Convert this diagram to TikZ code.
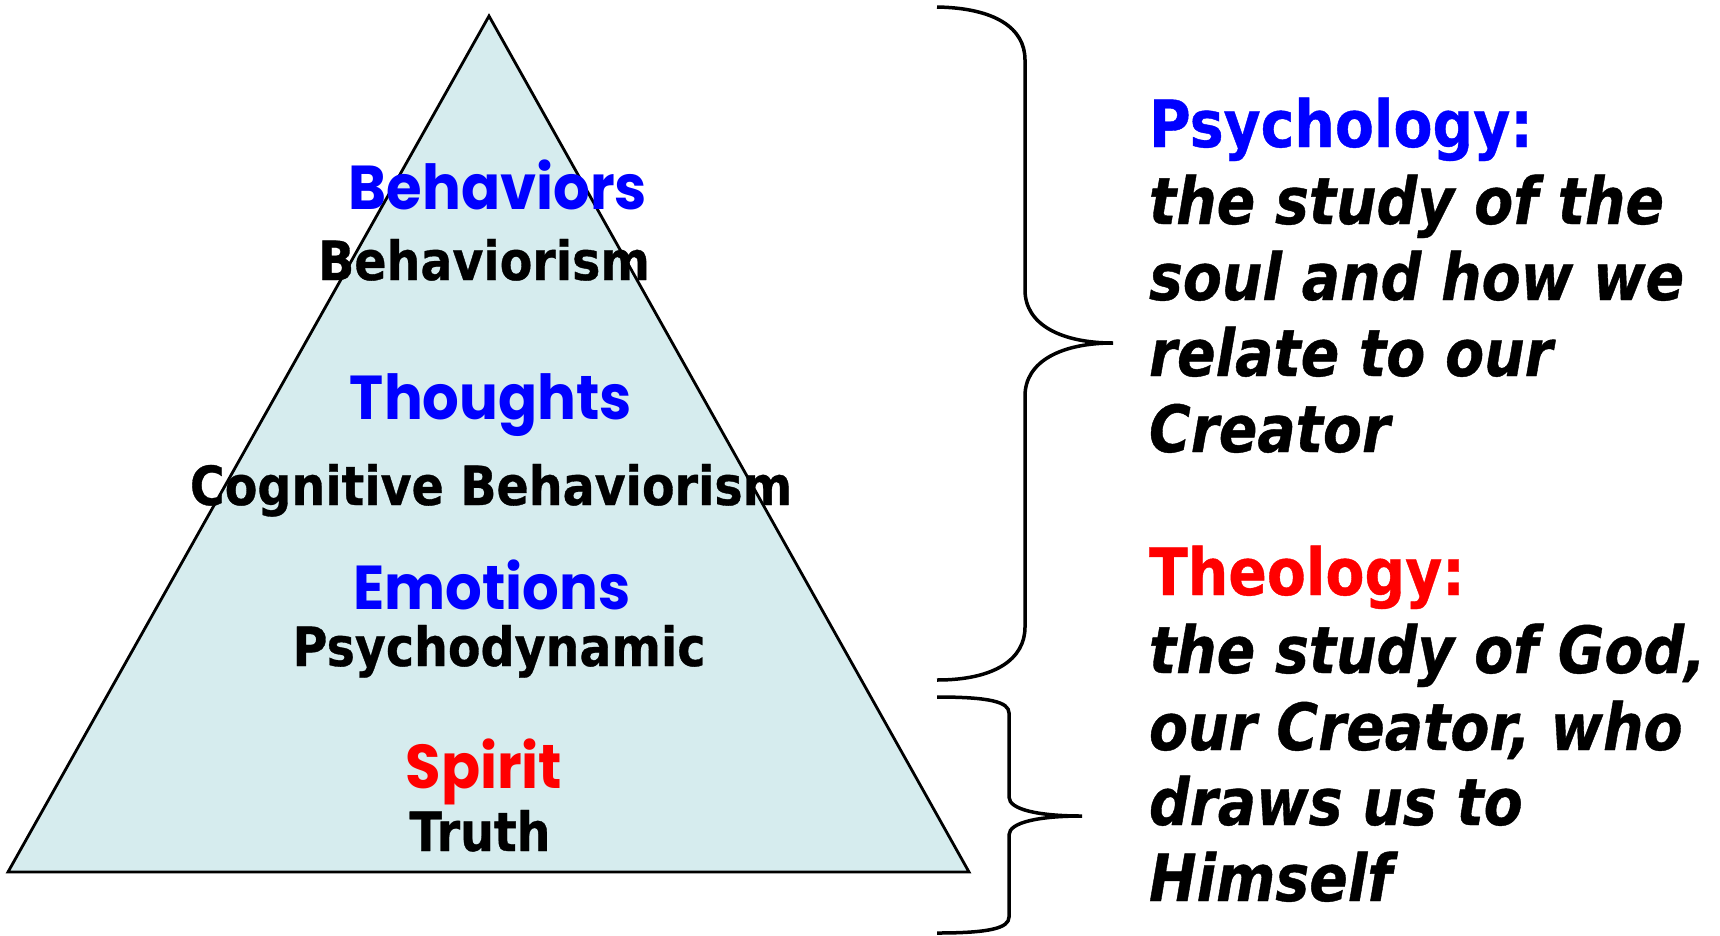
\documentclass[tikz,border=0pt]{standalone}
\usepackage{fontspec}
\newfontfamily\tah{DejaVu Sans}[FakeStretch=0.875,BoldFeatures={FakeBold=0.6},BoldItalicFeatures={FakeBold=0.6}]
\newfontfamily\tahtri{DejaVu Sans}[FakeStretch=0.88,BoldFeatures={FakeBold=0.6}]
\newfontfamily\geo{Poppins}[FakeStretch=0.93]
\definecolor{trifill}{RGB}{214,236,238}
\definecolor{pblue}{RGB}{0,0,255}
\definecolor{pred}{RGB}{255,0,0}
\begin{document}
\begin{tikzpicture}[x=1pt,y=-1pt,
  lbl/.style={anchor=base,inner sep=0pt,outer sep=0pt},
  colhead/.style={lbl,font=\geo\bfseries\fontsize{62}{62}\selectfont},
  blackhead/.style={lbl,font=\tahtri\bfseries\fontsize{54}{54}\selectfont,text=black},
  righttext/.style={anchor=base west,inner sep=0pt,outer sep=0pt,font=\tah\bfseries\itshape\fontsize{65}{65}\selectfont},
  righthead/.style={anchor=base west,inner sep=0pt,outer sep=0pt,font=\tah\bfseries\fontsize{65}{65}\selectfont},
  brace/.style={draw=black,line width=3.5pt,line cap=butt}]
\useasboundingbox (0,0) rectangle (1720,935);
% triangle
\coordinate (apex) at (489,16);
\coordinate (bl) at (8,872);
\coordinate (br) at (969,872);
\filldraw[fill=trifill,draw=black,line width=2.8pt,line join=miter] (apex) -- (br) -- (bl) -- cycle;
% triangle labels
\node[colhead,text=pblue] (behaviors) at (498,209) {Behaviors};
\node[blackhead] (behaviorism) at (484,280) {Behaviorism};
\node[colhead,text=pblue] (thoughts) at (491,419) {Thoughts};
\node[blackhead] (cognitive) at (491,505) {Cognitive Behaviorism};
\node[colhead,text=pblue] (emotions) at (492,609) {Emotions};
\node[blackhead] (psychodynamic) at (499,666) {Psychodynamic};
\node[colhead,text=pred] (spirit) at (484,788) {Spirit};
\node[blackhead] (truth) at (480,851) {Truth};
% braces
\draw[brace] (937,7) .. controls (995,8) and (1025,28) .. (1025,60)
  -- (1025,290) .. controls (1025,325) and (1062,343) .. (1113,343)
  .. controls (1062,343) and (1025,361) .. (1025,396)
  -- (1025,627) .. controls (1025,659) and (995,680) .. (937,680);
\draw[brace] (937,697) .. controls (990,697) and (1009,702) .. (1009,713)
  -- (1009,797) .. controls (1009,810) and (1040,816) .. (1082,816)
  .. controls (1040,816) and (1009,822) .. (1009,835)
  -- (1009,917) .. controls (1009,928) and (990,933) .. (937,933);
% right text
\node[righthead,text=pblue] (psy) at (1149,147) {Psychology:};
\node[righttext] (p1) at (1149,224) {the study of the};
\node[righttext] (p2) at (1149,300) {soul and how we};
\node[righttext] (p3) at (1149,376) {relate to our};
\node[righttext] (p4) at (1149,452) {Creator};
\node[righthead,text=pred] (theo) at (1149,595) {Theology:};
\node[righttext] (t1) at (1149,673) {the study of God,};
\node[righttext] (t2) at (1149,750) {our Creator, who};
\node[righttext] (t3) at (1149,825) {draws us to};
\node[righttext] (t4) at (1149,901) {Himself};
\end{tikzpicture}
\end{document}
